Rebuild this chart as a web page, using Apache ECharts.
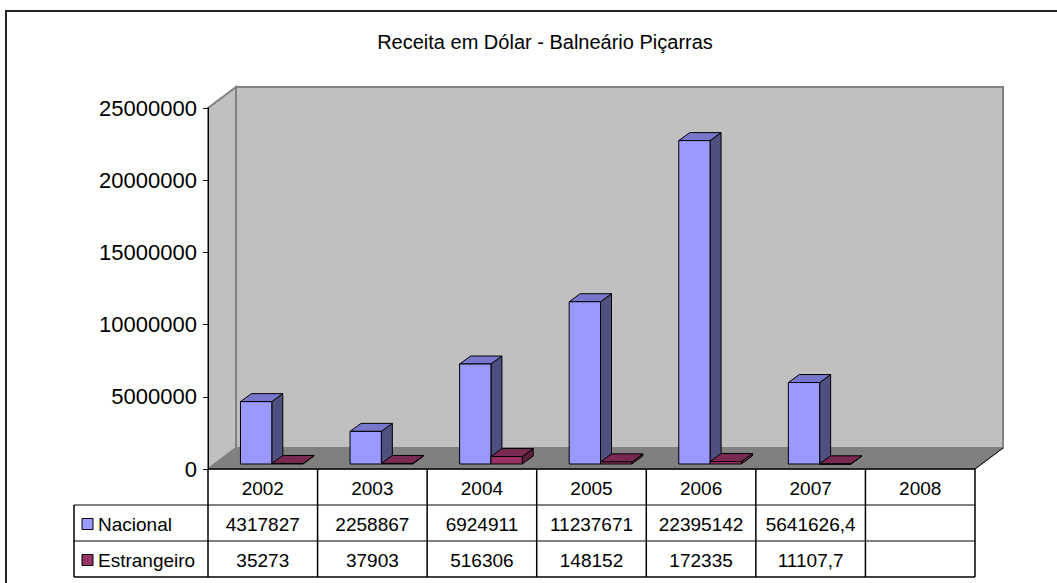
<!DOCTYPE html>
<html><head><meta charset="utf-8">
<script src="https://cdn.jsdelivr.net/npm/echarts@6/dist/echarts.min.js"></script>
<style>html,body{margin:0;padding:0;background:#fff}#c{width:1057px;height:583px}</style>
</head><body><div id="c"></div>
<script>
// ---- data ----
const chartTitle = 'Receita em Dólar - Balneário Piçarras';
const years = ['2002', '2003', '2004', '2005', '2006', '2007', '2008'];
const nacional = [4317827, 2258867, 6924911, 11237671, 22395142, 5641626.4, null];
const estrangeiro = [35273, 37903, 516306, 148152, 172335, 11107.7, null];
const seriesNames = ['Nacional', 'Estrangeiro'];
const yMin = 0, yMax = 25000000, yStep = 5000000;

// ---- style / layout ----
const FONT = '"Liberation Sans", Arial, sans-serif';
const GRID = { left: 208, top: 108, width: 767, height: 361 };
const WDX = 28, WDY = -21;          // wall depth offset
const BOX = 9, BOY = -5;            // bar front plane offset
const BDX = 11, BDY = -8;           // bar depth
const palette = [
  { front: '#9999FF', top: '#7777CC', side: '#4F4F80' },
  { front: '#993366', top: '#7A2952', side: '#5A1E3C' }
];

function fmt(v) { return v == null ? '' : String(v).replace('.', ','); }

function makeRender(s) {
  const c = palette[s];
  return function (params, api) {
    const v = api.value(1);
    if (v == null || isNaN(v)) return;
    const idx = api.value(0);
    const base = api.coord([idx, 0]);
    const top = api.coord([idx, v]);
    const cw = api.size([1, 0])[0];
    const bw = cw / 3.5;
    const x0 = base[0] - bw + s * bw + BOX;
    const x1 = x0 + bw;
    const yb = base[1] + BOY, yt = top[1] + BOY;
    const st = { stroke: '#000', lineWidth: 1, lineJoin: 'round' };
    return {
      type: 'group',
      children: [
        { type: 'polygon', shape: { points: [[x1, yt], [x1 + BDX, yt + BDY], [x1 + BDX, yb + BDY], [x1, yb]] },
          style: Object.assign({ fill: c.side }, st) },
        { type: 'polygon', shape: { points: [[x0, yt], [x1, yt], [x1 + BDX, yt + BDY], [x0 + BDX, yt + BDY]] },
          style: Object.assign({ fill: c.top }, st) },
        { type: 'rect', shape: { x: x0, y: yt, width: bw, height: Math.max(yb - yt, 0.5) },
          style: Object.assign({ fill: c.front }, st) }
      ]
    };
  };
}

const chart = echarts.init(document.getElementById('c'), null, { renderer: 'svg' });

const gL = GRID.left, gT = GRID.top, gR = GRID.left + GRID.width, gB = GRID.top + GRID.height;
const walls = [
  { type: 'rect', z: 0, shape: { x: 6, y: 11, width: 1060, height: 590 },
    style: { fill: 'none', stroke: '#222', lineWidth: 2 } },
  // back wall
  { type: 'rect', z: 0, shape: { x: gL + WDX, y: gT + WDY, width: GRID.width, height: GRID.height },
    style: { fill: '#C0C0C0', stroke: '#808080', lineWidth: 2 } },
  // left wall
  { type: 'polygon', z: 0, shape: { points: [[gL, gT], [gL + WDX, gT + WDY], [gL + WDX, gB + WDY], [gL, gB]] },
    style: { fill: '#C0C0C0', stroke: '#808080', lineWidth: 2 } },
  // floor
  { type: 'polygon', z: 0, shape: { points: [[gL, gB], [gR, gB], [gR + WDX, gB + WDY], [gL + WDX, gB + WDY]] },
    style: { fill: '#808080', stroke: '#808080', lineWidth: 1 } },
  { type: 'line', z: 1, shape: { x1: gR, y1: gB, x2: gR + WDX, y2: gB + WDY },
    style: { stroke: '#000', lineWidth: 1 } }
];

chart.setOption({
  animation: false,
  title: {
    text: chartTitle, left: 540, top: 27, textAlign: 'center',
    textStyle: { fontFamily: FONT, fontSize: 20, fontWeight: 'normal', color: '#000' }
  },
  grid: GRID,
  xAxis: {
    type: 'category', data: years, boundaryGap: true,
    axisLine: { show: false }, axisTick: { show: false }, axisLabel: { show: false }, splitLine: { show: false }
  },
  yAxis: {
    type: 'value', min: yMin, max: yMax, interval: yStep, z: 10,
    axisLine: { show: true, lineStyle: { color: '#000', width: 1 } },
    axisTick: { show: true, length: 5, lineStyle: { color: '#000' } },
    axisLabel: { fontFamily: FONT, fontSize: 22, color: '#000', margin: 11, formatter: v => String(v) },
    splitLine: { show: false }
  },
  graphic: walls,
  series: [
    { type: 'custom', name: seriesNames[0], renderItem: makeRender(0), z: 3,
      data: nacional.map((v, i) => [i, v]) },
    { type: 'custom', name: seriesNames[1], renderItem: makeRender(1), z: 4,
      data: estrangeiro.map((v, i) => [i, v]) }
  ]
});

// ---- data table, positioned from the chart's own scales ----
const c0 = chart.convertToPixel({ xAxisIndex: 0 }, 0);
const c1 = chart.convertToPixel({ xAxisIndex: 0 }, 1);
const cw = c1 - c0;
const tTop = chart.convertToPixel({ yAxisIndex: 0 }, 0);
const RH = 36;
const legL = 74;
const tL = c0 - cw / 2;
const tR = tL + cw * years.length;
const tBot = tTop + RH * 3;
const tbl = [];
const ts = (x, y, text, align) => ({
  type: 'text', z: 20, x: x, y: y,
  style: { text: text, fontFamily: FONT, fontSize: 19, fill: '#000', align: align || 'center', verticalAlign: 'middle' }
});
const ln = (x1, y1, x2, y2, col, w) => ({
  type: 'line', z: 21, shape: { x1, y1, x2, y2 }, style: { stroke: col, lineWidth: w || 1 }
});
// gray row separators
tbl.push(ln(legL, tTop + RH, tR, tTop + RH, '#808080', 2));
tbl.push(ln(legL, tTop + 2 * RH, tR, tTop + 2 * RH, '#808080', 2));
// black outer lines
tbl.push(ln(tL, tTop, tR, tTop, '#000', 1.5));
tbl.push(ln(legL, tBot, tR, tBot, '#000', 1.5));
tbl.push(ln(legL, tTop + RH, legL, tBot, '#000', 1.5));
for (let i = 0; i <= years.length; i++) {
  const x = tL + i * cw;
  tbl.push(ln(x, tTop, x, tBot, '#000', 1.5));
}
const rows = [nacional, estrangeiro];
years.forEach((y, i) => {
  const cx = chart.convertToPixel({ xAxisIndex: 0 }, i);
  tbl.push(ts(cx, tTop + RH / 2 + 1, y));
  rows.forEach((r, k) => tbl.push(ts(cx, tTop + RH * (k + 1.5) + 1, fmt(r[i]))));
});
seriesNames.forEach((n, k) => {
  const yc = tTop + RH * (k + 1.5) + 1;
  tbl.push({ type: 'rect', z: 20, shape: { x: legL + 8, y: yc - 5.5, width: 11, height: 11 },
    style: { fill: palette[k].front, stroke: '#000', lineWidth: 1 } });
  tbl.push(ts(legL + 24, yc, n, 'left'));
});
chart.setOption({ graphic: walls.concat(tbl) });
</script></body></html>
